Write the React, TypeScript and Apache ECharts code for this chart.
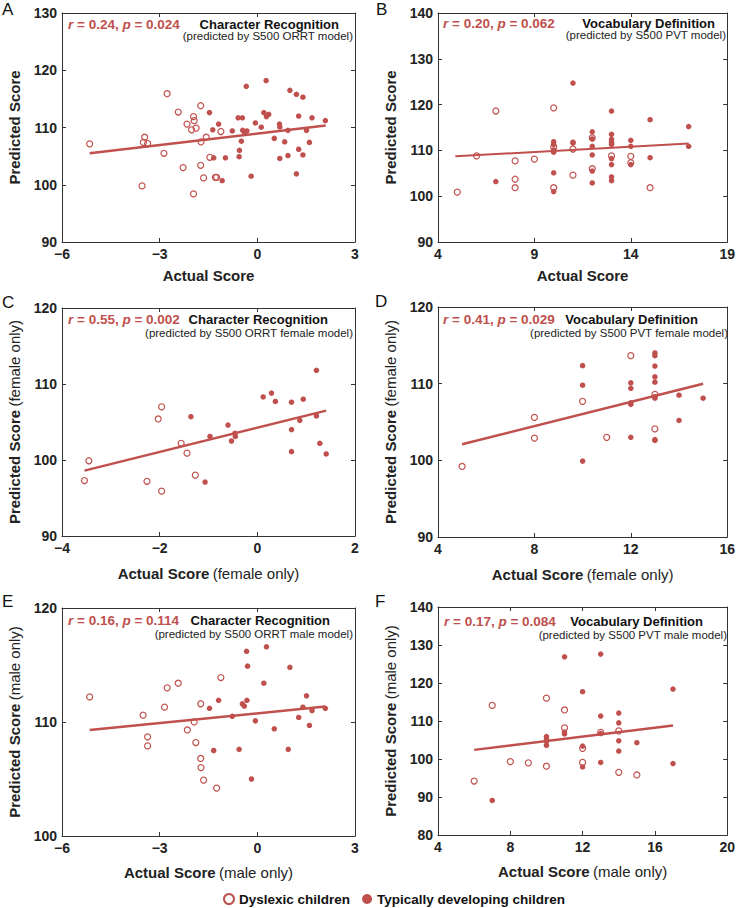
import React, { useEffect, useRef } from "react";
import * as echarts from "echarts";

const RED = "#c0504d";
const FONT = '"Liberation Sans", Arial, Helvetica, sans-serif';

// ---- Panel A: Character Recognition (all)
const dysA = [[-5.15,107.15],[-2.77,115.9],[-2.43,112.7],[-2.16,110.6],[-1.96,111.9],[-1.94,111.2],[-2.02,109.6],[-1.88,109.9],[-1.74,113.8],[-1.57,108.3],[-1.73,107.5],[-3.46,108.3],[-3.5,107.4],[-3.37,107.2],[-2.87,105.5],[-3.54,99.8],[-2.28,103.0],[-1.74,103.4],[-1.65,101.2],[-1.96,98.4],[-1.46,104.8],[-1.29,101.3],[-1.25,101.3],[-1.12,109.3]];
const tdA = [[-1.47,112.6],[-1.37,109.6],[-1.34,104.7],[-1.19,110.6],[-0.98,104.7],[-1.08,100.7],[-0.77,109.4],[-0.59,111.7],[-0.46,111.7],[-0.55,106.0],[-0.56,104.9],[-0.49,107.6],[-0.45,109.5],[-0.34,117.2],[-0.32,109.4],[-0.39,109.1],[-0.19,101.5],[-0.06,110.8],[0.12,110.05],[0.2,112.6],[0.28,111.9],[0.35,112.3],[0.27,118.2],[0.52,108.1],[0.68,110.6],[0.69,110.1],[0.69,104.6],[0.84,107.5],[0.94,105.1],[0.94,109.5],[1.0,116.5],[1.2,115.8],[1.2,101.9],[1.27,112.0],[1.27,106.2],[1.4,115.3],[1.4,105.2],[1.51,109.5],[1.6,107.4],[1.68,111.7],[2.09,111.2]];
const fitA = [[-5.15,105.5],[2.1,110.35]];
const xTicksA = [-6,-3,0,3];
const yTicksA = [90,100,110,120,130];

// ---- Panel B: Vocabulary Definition (all)
const dysB = [[5,100.9],[6,108.8],[7,118.6],[8,107.7],[8,103.7],[8,101.85],[9,108.1],[10,119.3],[10,110.7],[10,101.85],[11,110.3],[11,104.6],[12,112.75],[12,106.0],[13,108.8],[14,108.7],[14,107.3],[15,101.85]];
const tdB = [[7,103.2],[10,111.9],[10,111.3],[10,110.1],[10,109.6],[10,105.1],[10,101.0],[11,124.7],[11,111.8],[11,111.6],[12,114.05],[12,112.5],[12,110.9],[12,109.0],[12,105.5],[12,102.9],[13,118.6],[13,113.5],[13,112.4],[13,111.8],[13,111.3],[13,108.2],[13,106.9],[13,104.2],[13,103.4],[14,112.2],[14,110.9],[14,106.9],[15,116.7],[15,108.4],[17,115.2],[17,110.9]];
const fitB = [[4.9,108.7],[17,111.5]];
const xTicksB = [4,9,14,19];
const yTicksB = [90,100,110,120,130,140];

// ---- Panel C: Character Recognition (female)
const dysC = [[-3.54,97.3],[-3.45,99.9],[-2.26,97.2],[-2.03,105.4],[-1.96,107.0],[-1.96,95.9],[-1.56,102.2],[-1.44,100.9],[-1.27,98.0]];
const tdC = [[-1.36,105.7],[-1.07,97.1],[-0.97,103.1],[-0.6,104.6],[-0.53,102.5],[-0.46,103.5],[-0.45,103.1],[0.12,108.3],[0.29,108.8],[0.37,107.7],[0.7,107.6],[0.7,104.0],[0.7,101.1],[0.87,105.2],[0.94,108.0],[1.21,111.8],[1.21,105.8],[1.28,102.2],[1.41,100.8]];
const fitC = [[-3.54,98.6],[1.41,106.5]];
const xTicksC = [-4,-2,0,2];
const yTicksC = [90,100,110,120];

// ---- Panel D: Vocabulary Definition (female)
const dysD = [[5,99.2],[8,105.6],[8,102.9],[10,107.7],[11,103.0],[12,113.65],[13,108.6],[13,104.1]];
const tdD = [[10,112.35],[10,109.8],[10,99.9],[12,110.1],[12,109.4],[12,107.5],[12,107.3],[12,103.0],[13,114.0],[13,113.65],[13,112.3],[13,110.9],[13,110.2],[13,108.3],[13,108.1],[13,102.7],[13,102.6],[14,108.5],[14,105.2],[15,108.1]];
const fitD = [[5,102.1],[15,110.0]];
const xTicksD = [4,8,12,16];
const yTicksD = [90,100,110,120];

// ---- Panel E: Character Recognition (male)
const dysE = [[-5.15,112.2],[-3.51,110.6],[-3.37,108.7],[-3.37,107.9],[-2.85,111.3],[-2.77,113.0],[-2.43,113.4],[-2.15,109.3],[-1.94,110.0],[-1.89,108.2],[-1.74,111.6],[-1.74,106.8],[-1.73,106.0],[-1.65,104.9],[-1.25,104.2],[-1.12,113.9]];
const tdE = [[-1.47,111.2],[-1.34,107.5],[-1.19,111.9],[-0.77,110.5],[-0.56,107.6],[-0.46,111.6],[-0.4,111.4],[-0.32,111.9],[-0.33,116.2],[-0.3,114.9],[-0.18,105.0],[-0.06,110.1],[0.2,113.4],[0.28,116.6],[0.52,109.4],[0.95,107.6],[1.0,114.8],[1.27,110.4],[1.4,111.3],[1.51,112.3],[1.6,109.7],[1.68,111.0],[2.09,111.2]];
const fitE = [[-5.15,109.3],[2.09,111.35]];
const xTicksE = [-6,-3,0,3];
const yTicksE = [100,110,120];

// ---- Panel F: Vocabulary Definition (male)
const dysF = [[6,94.2],[7,114.1],[8,99.3],[9,99.0],[10,116.0],[10,98.1],[11,112.9],[11,108.2],[12,102.8],[12,99.1],[13,107.0],[14,107.4],[14,96.5],[15,95.8]];
const tdF = [[7,89.1],[10,105.9],[10,105.3],[10,104.6],[10,103.6],[11,126.9],[11,107.1],[11,106.6],[12,117.7],[12,103.4],[12,97.9],[13,127.6],[13,111.3],[13,106.7],[13,99.1],[14,112.1],[14,109.5],[14,104.8],[14,102.1],[15,104.3],[17,118.4],[17,98.8]];
const fitF = [[6,102.4],[17,108.8]];
const xTicksF = [4,8,12,16,20];
const yTicksF = [80,90,100,110,120,130,140];

const statTexts = [
  ["0.24", "0.024"], ["0.20", "0.062"], ["0.55", "0.002"],
  ["0.41", "0.029"], ["0.16", "0.114"], ["0.17", "0.084"],
];
const titleTexts = ["Character Recognition", "Vocabulary Definition", "Character Recognition", "Vocabulary Definition", "Character Recognition", "Vocabulary Definition"];
const subTexts = [
  "(predicted by S500 ORRT model)", "(predicted by S500 PVT model)",
  "(predicted by S500 ORRT female model)", "(predicted by S500 PVT female model)",
  "(predicted by S500 ORRT male model)", "(predicted by S500 PVT male model)",
];
const letters = ["A", "B", "C", "D", "E", "F"];
const legendNames = ["Dyslexic children", "Typically developing children"];

const panels = [
  { g: { left: 62, top: 13, width: 293, height: 229 }, xt: xTicksA, yt: yTicksA, dys: dysA, td: tdA, fit: fitA, suffix: "", xGap: 26, lw: 2.5,
    stat: [68, 24], title: [339, 24], sub: [353, 36], letter: [2, 1] },
  { g: { left: 438, top: 13, width: 292, height: 229 }, xt: xTicksB, yt: yTicksB, dys: dysB, td: tdB, fit: fitB, suffix: "", xGap: 26, lw: 2,
    stat: [443, 23], title: [715, 23], sub: [726, 35], letter: [376, 1] },
  { g: { left: 62, top: 308, width: 293, height: 228 }, xt: xTicksC, yt: yTicksC, dys: dysC, td: tdC, fit: fitC, suffix: "female only", xGap: 30, lw: 2.5,
    stat: [68, 319], title: [328, 319], sub: [353, 333], letter: [2, 294] },
  { g: { left: 438, top: 307, width: 292, height: 230 }, xt: xTicksD, yt: yTicksD, dys: dysD, td: tdD, fit: fitD, suffix: "female only", xGap: 30, lw: 2.5,
    stat: [443, 319], title: [698, 319], sub: [728, 333], letter: [375, 293] },
  { g: { left: 62, top: 608, width: 293, height: 228 }, xt: xTicksE, yt: yTicksE, dys: dysE, td: tdE, fit: fitE, suffix: "male only", xGap: 29, lw: 2.5,
    stat: [68, 620], title: [330, 620], sub: [353, 634], letter: [2, 593] },
  { g: { left: 438, top: 607, width: 292, height: 228 }, xt: xTicksF, yt: yTicksF, dys: dysF, td: tdF, fit: fitF, suffix: "male only", xGap: 29, lw: 2.5,
    stat: [444, 621], title: [703, 621], sub: [727, 635], letter: [375, 593] },
];

const fmt = (v: number) => (v < 0 ? "\u2212" + Math.abs(v) : String(v));
const AXIS_COLOR = "#333333";

function buildOption() {
  const grid: any[] = [];
  const xAxis: any[] = [];
  const yAxis: any[] = [];
  const series: any[] = [];
  const graphic: any[] = [];
  const nameRich = {
    b: { fontFamily: FONT, fontWeight: "bold", fontSize: 15, color: "#222" },
    n: { fontFamily: FONT, fontWeight: "normal", fontSize: 15, color: "#222" },
  };
  panels.forEach((p, i) => {
    grid.push({ ...p.g, containLabel: false, show: false });
    const xmin = p.xt[0], xmax = p.xt[p.xt.length - 1];
    const ymin = p.yt[0], ymax = p.yt[p.yt.length - 1];
    const xi = p.xt[1] - p.xt[0];
    const yi = p.yt[1] - p.yt[0];
    const line = { show: true, lineStyle: { color: AXIS_COLOR, width: 1 } };
    const xName = p.suffix ? `{b|Actual Score} {n|(${p.suffix})}` : "{b|Actual Score}";
    const yName = p.suffix ? `{b|Predicted Score} {n|(${p.suffix})}` : "{b|Predicted Score}";
    xAxis.push({
      type: "value", gridIndex: i, position: "bottom", min: xmin, max: xmax, interval: xi,
      axisLine: { ...line, onZero: false },
      axisTick: { show: true, inside: true, length: 4, lineStyle: { color: AXIS_COLOR }, customValues: p.xt },
      axisLabel: { show: true, margin: 5, customValues: p.xt, formatter: fmt, fontFamily: FONT, fontWeight: "bold", fontSize: 14, color: "#222" },
      splitLine: { show: false },
      name: xName, nameLocation: "middle", nameGap: p.xGap, nameTextStyle: { rich: nameRich },
    });
    xAxis.push({
      type: "value", gridIndex: i, position: "top", min: xmin, max: xmax, interval: xi,
      axisLine: { ...line, onZero: false },
      axisTick: { show: true, inside: true, length: 4, lineStyle: { color: AXIS_COLOR }, customValues: p.xt },
      axisLabel: { show: false }, splitLine: { show: false },
    });
    yAxis.push({
      type: "value", gridIndex: i, position: "left", min: ymin, max: ymax, interval: yi,
      axisLine: { ...line, onZero: false },
      axisTick: { show: true, inside: true, length: 4, lineStyle: { color: AXIS_COLOR }, customValues: p.yt },
      axisLabel: { show: true, margin: 5, customValues: p.yt, formatter: fmt, fontFamily: FONT, fontWeight: "bold", fontSize: 14, color: "#222" },
      splitLine: { show: false },
      name: yName, nameLocation: "middle", nameGap: 40, nameTextStyle: { rich: nameRich },
    });
    yAxis.push({
      type: "value", gridIndex: i, position: "right", min: ymin, max: ymax, interval: yi,
      axisLine: { ...line, onZero: false },
      axisTick: { show: true, inside: true, length: 4, lineStyle: { color: AXIS_COLOR }, customValues: p.yt },
      axisLabel: { show: false }, splitLine: { show: false },
    });
    const xa = i * 2, ya = i * 2;
    series.push({
      type: "line", name: "fit" + letters[i], xAxisIndex: xa, yAxisIndex: ya, data: p.fit,
      symbol: "none", lineStyle: { color: RED, width: p.lw }, z: 1, silent: true,
    });
    series.push({
      type: "scatter", name: legendNames[0], xAxisIndex: xa, yAxisIndex: ya, data: p.dys,
      symbol: "circle", symbolSize: 6,
      itemStyle: { color: "rgba(255,255,255,0)", borderColor: RED, borderWidth: 1.2, opacity: 1 }, z: 3,
    });
    series.push({
      type: "scatter", name: legendNames[1], xAxisIndex: xa, yAxisIndex: ya, data: p.td,
      symbol: "circle", symbolSize: 5.5, itemStyle: { color: RED, opacity: 1 }, z: 3,
    });
    // annotations
    const [r, pv] = statTexts[i];
    const statRich = {
      i: { fill: RED, fontStyle: "italic", fontWeight: "bold", fontSize: 13.5, fontFamily: FONT },
      b: { fill: RED, fontWeight: "bold", fontSize: 13.5, fontFamily: FONT },
    };
    graphic.push({
      type: "text", x: p.stat[0], y: p.stat[1], z: 10,
      style: { text: `{i|r}{b| = ${r}, }{i|p}{b| = ${pv}}`, rich: statRich, align: "left", verticalAlign: "middle", textAlign: "left", textVerticalAlign: "middle" },
    });
    graphic.push({
      type: "text", x: p.title[0], y: p.title[1], z: 10,
      style: { text: titleTexts[i], fill: "#111", fontFamily: FONT, fontWeight: "bold", fontSize: 13, align: "right", verticalAlign: "middle", textAlign: "right", textVerticalAlign: "middle" },
    });
    graphic.push({
      type: "text", x: p.sub[0], y: p.sub[1], z: 10,
      style: { text: subTexts[i], fill: "#222", fontFamily: FONT, fontWeight: "normal", fontSize: 11.5, align: "right", verticalAlign: "middle", textAlign: "right", textVerticalAlign: "middle" },
    });
    graphic.push({
      type: "text", x: p.letter[0], y: p.letter[1], z: 10,
      style: { text: letters[i], fill: "#111", fontFamily: FONT, fontWeight: "normal", fontSize: 17, align: "left", verticalAlign: "top", textAlign: "left", textVerticalAlign: "top" },
    });
  });

  return {
    animation: false,
    backgroundColor: "#ffffff",
    textStyle: { fontFamily: FONT },
    grid, xAxis, yAxis, series, graphic,
    legend: {
      left: 223, top: 891, padding: 0, itemWidth: 10, itemHeight: 10, itemGap: 12, selectedMode: false,
      textStyle: { fontFamily: FONT, fontWeight: "bold", fontSize: 13.5, color: "#111", lineHeight: 16 },
      data: [
        { name: legendNames[0], icon: "circle", itemStyle: { color: "#ffffff", borderColor: RED, borderWidth: 2 } },
        { name: legendNames[1], icon: "circle", itemStyle: { color: RED, borderWidth: 0 } },
      ],
    },
  };
}

export default function App() {
  const ref = useRef<HTMLDivElement>(null);
  useEffect(() => {
    if (!ref.current) return;
    const chart = echarts.init(ref.current, undefined, { renderer: "svg" });
    chart.setOption(buildOption() as any);
    return () => chart.dispose();
  }, []);
  return (
    <div
      ref={ref}
      style={{ position: "absolute", left: 0, top: 0, width: 738, height: 908, background: "#fff" }}
    />
  );
}
